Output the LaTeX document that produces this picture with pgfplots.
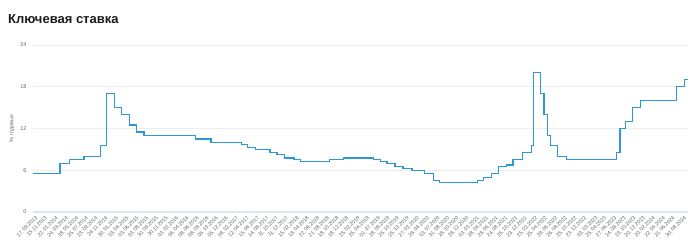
\documentclass[border=0pt]{standalone}
\usepackage{fontspec}
\setmainfont{Liberation Sans}
\usepackage{pgfplots}
\pgfplotsset{compat=1.18}
\usepgfplotslibrary{dateplot}
\usepackage{pgfplotstable}
\definecolor{linec}{HTML}{2E98D6}
\definecolor{titlec}{HTML}{1A1A1A}
\definecolor{tickc}{HTML}{666666}
\definecolor{gridc}{HTML}{EDEDED}
\definecolor{axisc}{HTML}{DFE5EF}

\pgfplotstableread{
date val
2013-09-17 5.5
2014-03-03 7.0
2014-04-28 7.5
2014-07-28 8.0
2014-11-05 9.5
2014-12-12 10.5
2014-12-16 17.0
2015-02-02 15.0
2015-03-16 14.0
2015-05-05 12.5
2015-06-16 11.5
2015-08-03 11.0
2016-06-14 10.5
2016-09-19 10.0
2017-03-27 9.75
2017-05-02 9.25
2017-06-19 9.0
2017-09-18 8.5
2017-10-30 8.25
2017-12-18 7.75
2018-02-12 7.5
2018-03-26 7.25
2018-09-17 7.5
2018-12-17 7.75
2019-06-17 7.5
2019-07-29 7.25
2019-09-09 7.0
2019-10-28 6.5
2019-12-16 6.25
2020-02-10 6.0
2020-04-27 5.5
2020-06-22 4.5
2020-07-27 4.25
2021-03-22 4.5
2021-04-26 5.0
2021-06-15 5.5
2021-07-26 6.5
2021-09-13 6.75
2021-10-25 7.5
2021-12-20 8.5
2022-02-14 9.5
2022-02-28 20.0
2022-04-11 17.0
2022-05-04 14.0
2022-05-27 11.0
2022-06-14 9.5
2022-07-25 8.0
2022-09-19 7.5
2023-07-24 8.5
2023-08-15 12.0
2023-09-18 13.0
2023-10-30 15.0
2023-12-18 16.0
2024-07-29 18.0
2024-09-16 19.0
2024-10-08 19.0
}\keyrate

\begin{document}
\begin{tikzpicture}
\path[use as bounding box] (-33pt,-39pt) rectangle (667pt,212pt);
\node[anchor=base west, font=\fontsize{13}{15}\selectfont\bfseries, text=titlec, inner sep=0pt] at (-25pt,188pt) {Ключевая ставка};
\begin{axis}[
  scale only axis, width=655pt, height=167pt,
  at={(0pt,0pt)}, anchor=south west,
  date coordinates in=x, date ZERO=2013-09-17,
  xmin=2013-09-17, xmax=2024-10-08,
  ymin=0, ymax=24, ytick={0,6,12,18,24},
  axis x line*=bottom, axis y line*=left,
  y axis line style={draw=none},
  x axis line style={draw=axisc, line width=1.3pt},
  major tick length=0pt,
  ymajorgrids, grid style={draw=gridc, line width=0.7pt},
  /pgf/number format/assume math mode=true,
  yticklabel style={font=\fontsize{5.5}{6}\selectfont, text=tickc, xshift=-3pt},
  xticklabel style={font=\fontsize{5.3}{6}\selectfont, text=tickc, rotate=45, anchor=north east, inner sep=1pt, yshift=-3pt},
  every axis y label/.style={at={([xshift=-21pt]rel axis cs:0,0.5)}, rotate=90, anchor=center, font=\fontsize{5.5}{6}\selectfont, text=tickc},
  ylabel={\% годовых},
  xtick={2013-09-17,2013-11-15,2014-01-22,2014-03-24,2014-05-28,2014-07-25,2014-09-23,2014-11-24,2015-01-30,2015-04-03,2015-06-03,2015-08-03,2015-09-30,2015-11-30,2016-02-03,2016-04-06,2016-06-08,2016-08-08,2016-10-05,2016-12-05,2017-02-08,2017-04-12,2017-06-15,2017-08-14,2017-10-11,2017-12-11,2018-02-15,2018-04-18,2018-06-22,2018-08-21,2018-10-18,2018-12-18,2019-02-25,2019-04-25,2019-07-01,2019-08-28,2019-10-25,2019-12-25,2020-02-27,2020-04-28,2020-07-03,2020-08-31,2020-10-28,2020-12-28,2021-03-03,2021-04-28,2021-06-28,2021-08-24,2021-10-25,2021-12-23,2022-02-25,2022-04-25,2022-06-29,2022-08-26,2022-10-25,2022-12-23,2023-03-03,2023-04-25,2023-06-27,2023-08-24,2023-10-23,2023-12-20,2024-02-20,2024-04-22,2024-06-21,2024-08-30},
  xticklabels={17.09.2013,15.11.2013,22.01.2014,24.03.2014,28.05.2014,25.07.2014,23.09.2014,24.11.2014,30.01.2015,03.04.2015,03.06.2015,03.08.2015,30.09.2015,30.11.2015,03.02.2016,06.04.2016,08.06.2016,08.08.2016,05.10.2016,05.12.2016,08.02.2017,12.04.2017,15.06.2017,14.08.2017,11.10.2017,11.12.2017,15.02.2018,18.04.2018,22.06.2018,21.08.2018,18.10.2018,18.12.2018,25.02.2019,25.04.2019,01.07.2019,28.08.2019,25.10.2019,25.12.2019,27.02.2020,28.04.2020,03.07.2020,31.08.2020,28.10.2020,28.12.2020,03.03.2021,28.04.2021,28.06.2021,24.08.2021,25.10.2021,23.12.2021,25.02.2022,25.04.2022,29.06.2022,26.08.2022,25.10.2022,23.12.2022,03.03.2023,25.04.2023,27.06.2023,24.08.2023,23.10.2023,20.12.2023,20.02.2024,22.04.2024,21.06.2024,30.08.2024},
]
\addplot[const plot, no marks, draw=linec, line width=1.2pt] table[x=date, y=val] {\keyrate};
\end{axis}
\end{tikzpicture}
\end{document}
